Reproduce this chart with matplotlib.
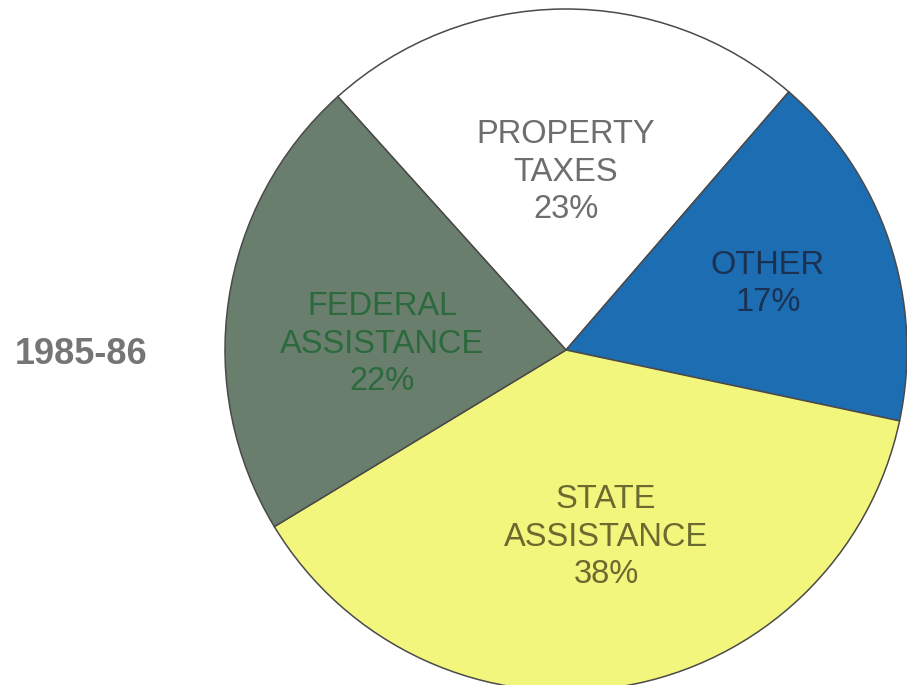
import matplotlib
matplotlib.use('Agg')
from matplotlib import pyplot as plt

# school revenue sources, 1985-86
labels = ['PROPERTY\nTAXES\n23%', 'OTHER\n17%', 'STATE\nASSISTANCE\n38%', 'FEDERAL\nASSISTANCE\n22%']
shares = [23, 17, 38, 22]
colors = ['#ffffff', '#1d6db3', '#f3f67c', '#6a7e6d']
text_colors = ['#6e6e6e', '#1b3152', '#6b6a30', '#2c6a3d']
year = '1985-86'

plt.rcParams['font.family'] = ['Liberation Sans', 'DejaVu Sans']

fig = plt.figure(figsize=(9.07, 6.85), dpi=100)
ax = fig.add_axes([0, 0, 1, 1])

wedges, _ = ax.pie(shares, colors=colors, startangle=132, counterclock=False,
                   center=(566, 335), radius=341,
                   wedgeprops=dict(edgecolor='#4a4a4a', linewidth=1.1))

# label positions (pixels, y up)
label_xy = [(566, 513), (768, 401), (606, 148), (382, 341)]
for txt, (x, y), c in zip(labels, label_xy, text_colors):
    ax.text(x, y, txt, ha='center', va='center', fontsize=23.5,
            color=c, linespacing=1.27)

ax.text(81, 331, year, ha='center', va='center', fontsize=26,
        fontweight='bold', color='#757575')

ax.set_xlim(0, 907)
ax.set_ylim(0, 685)
ax.axis('off')
fig.savefig('out.png', dpi=100)
